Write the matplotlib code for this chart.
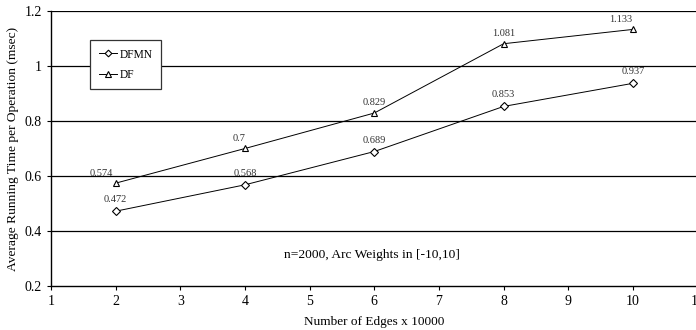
import matplotlib
matplotlib.use("Agg")
import matplotlib.pyplot as plt

edges = [2, 4, 6, 8, 10]
dfmn = [0.472, 0.568, 0.689, 0.853, 0.937]
df = [0.574, 0.7, 0.829, 1.081, 1.133]
dfmn_labels = ["0.472", "0.568", "0.689", "0.853", "0.937"]
df_labels = ["0.574", "0.7", "0.829", "1.081", "1.133"]
df_dx = [-14, -6, 0, 0, -12]

plt.rcParams['font.family'] = ['Liberation Serif', 'DejaVu Serif']

fig = plt.figure(figsize=(6.96, 3.3), dpi=100)
ax = fig.add_axes([0.0733, 0.1333, 0.929, 0.8334])

ax.set_xlim(1, 11)
ax.set_ylim(0.2, 1.2)
ax.set_yticks([0.2, 0.4, 0.6, 0.8, 1.0, 1.2])
ax.set_yticklabels(["0.2", "0.4", "0.6", "0.8", "1", "1.2"])
ax.set_xticks(range(1, 12))
for y in [0.4, 0.6, 0.8, 1.0, 1.2]:
    ax.axhline(y, color='black', lw=0.9, zorder=1)

ax.plot(edges, dfmn, color='black', lw=0.7, marker='D', ms=4,
        mfc='white', mec='black', mew=0.8, label='DFMN', zorder=3)
ax.plot(edges, df, color='black', lw=0.7, marker='^', ms=5,
        mfc='white', mec='black', mew=0.8, label='DF', zorder=3)

for x, y, t in zip(edges, dfmn, dfmn_labels):
    ax.annotate(t, (x, y), xytext=(0, 5), textcoords='offset points',
                ha='center', va='bottom', fontsize=7.5, color='#333333')
for x, y, t, dx in zip(edges, df, df_labels, df_dx):
    ax.annotate(t, (x, y), xytext=(dx * 0.72, 4), textcoords='offset points',
                ha='center', va='bottom', fontsize=7.5, color='#333333')

ax.text(5.96, 0.313, "n=2000, Arc Weights in [-10,10]", ha='center',
        va='center', fontsize=9.7)

for s in ['top', 'right']:
    ax.spines[s].set_visible(False)
ax.spines['left'].set_linewidth(1.0)
ax.spines['bottom'].set_linewidth(1.0)
ax.tick_params(axis='both', labelsize=10, length=3, width=0.8, direction='out')

ax.set_xlabel("Number of Edges x 10000", fontsize=9.5, labelpad=6)
ax.set_ylabel("Average Running Time per Operation (msec)", fontsize=9.7,
              labelpad=4)

leg = ax.legend(loc='upper left', bbox_to_anchor=(0.052, 0.916), fontsize=8.3,
                frameon=True, fancybox=False, edgecolor='#333333',
                framealpha=1, handlelength=1.6, labelspacing=0.7,
                borderpad=0.75, handletextpad=0.2, markerscale=0.85)
leg.get_frame().set_linewidth(0.9)

fig.savefig("out.png", dpi=100)
